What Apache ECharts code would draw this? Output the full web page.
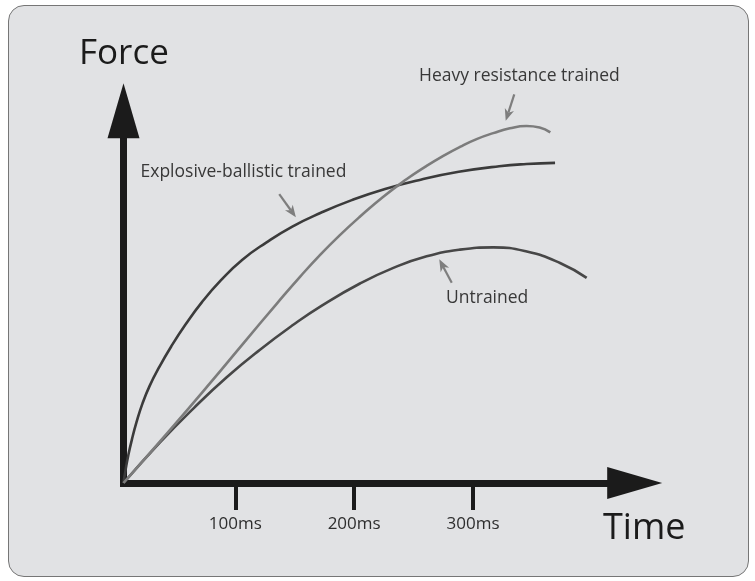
<!DOCTYPE html>
<html>
<head>
<meta charset="utf-8">
<script src="https://cdn.jsdelivr.net/npm/echarts@6/dist/echarts.min.js"></script>
<style>
  html, body { margin: 0; padding: 0; background: #ffffff; }
  #frame {
    position: absolute; left: 8px; top: 5px; width: 739px; height: 570px;
    border: 1.5px solid #767676; border-radius: 16px; background: #e1e2e4;
  }
  #chart { position: absolute; left: 0; top: 0; width: 755px; height: 581px; }
</style>
</head>
<body>
<div id="frame"></div>
<div id="chart"></div>
<script>
// Time axis ticks (ms)
const timeTicks = [100, 200, 300];

// Force–time curves: [time in ms, relative force]
const explosiveBallistic = [
  [6, 0], [8, 4.0], [10, 7.4], [13, 11.6], [17, 16.4], [22, 21.4], [28, 26.1],
  [36, 31.1], [46, 36.6], [58, 42.5], [72, 48.6], [88, 54.5], [106, 60.0],
  [126, 64.6], [148, 68.9], [172, 72.6], [198, 76.0], [226, 79.0], [256, 81.5],
  [288, 83.6], [322, 85.1], [345, 85.7], [369, 86.0]
];
const heavyResistance = [
  [6, 0], [45, 14.2], [79, 26.9], [107, 37.6], [135, 48.2], [155, 55.6],
  [172, 61.5], [188, 66.6], [205, 71.6], [224, 76.8], [244, 81.6],
  [260, 85.0], [275, 87.9], [289, 90.3], [303, 92.4], [317, 94.0],
  [331, 95.3], [345, 95.9], [356, 95.5], [365, 94.2]
];
const untrained = [
  [6, 0], [36.7, 10.9], [64.7, 20.0], [92.8, 28.4], [120.8, 35.8], [148.8, 42.5],
  [172.5, 47.6], [204.9, 53.6], [233, 57.8], [261, 60.9], [289, 62.7], [317.1, 63.3],
  [345.2, 62.2], [373.2, 59.1], [395.6, 55.1]
];

// Callout arrows, in data space: [tail, tip]
const calloutExplosive = [[137, 77.6], [151, 71.4]];
const calloutHeavy = [[334.7, 104.4], [327.5, 97.3]];
const calloutUntrained = [[282.1, 53.8], [271.6, 60.1]];

const FONT = '"Open Sans", "Noto Sans", sans-serif';
const AXIS_COLOR = '#1b1b1b';

const chart = echarts.init(document.getElementById('chart'), null, { renderer: 'canvas' });

const axisLineStyle = {
  show: true,
  symbol: ['none', 'triangle'],
  symbolSize: [32, 55],
  lineStyle: { color: AXIS_COLOR, width: 7, cap: 'square' }
};

function curve(name, data, color, z) {
  return {
    name: name, type: 'line', data: data,
    showSymbol: false, smooth: 0.5, clip: false, z: z,
    lineStyle: { color: color, width: 2.6 }
  };
}

const option = {
  animation: false,
  grid: {
    left: 123.5, top: 110.8, right: 120.3, bottom: 98,
    outerBoundsMode: 'none', containLabel: false
  },
  xAxis: {
    type: 'value',
    min: 6, max: 436,
    axisLine: axisLineStyle,
    splitLine: { show: false },
    axisTick: {
      show: true, length: 27, customValues: timeTicks,
      lineStyle: { color: AXIS_COLOR, width: 4 }
    },
    axisLabel: {
      show: true, customValues: timeTicks, margin: 33,
      formatter: '{value}ms', fontSize: 17, fontFamily: FONT, color: '#2e2e2e'
    }
  },
  yAxis: {
    type: 'value',
    min: 0, max: 100,
    axisLine: axisLineStyle,
    splitLine: { show: false },
    axisTick: { show: false },
    axisLabel: { show: false }
  },
  series: [
    curve('Explosive-ballistic trained', explosiveBallistic, '#3b3b3b', 3),
    curve('Heavy resistance trained', heavyResistance, '#7c7c7c', 4),
    curve('Untrained', untrained, '#474747', 3)
  ]
};

chart.setOption(option);

// Callout arrows and text, placed through the grid's coordinate system
function toPx(p) { return chart.convertToPixel({ gridIndex: 0 }, p); }

function arrow(callout) {
  const a = toPx(callout[0]);
  const b = toPx(callout[1]);
  const dx = b[0] - a[0], dy = b[1] - a[1];
  const len = Math.sqrt(dx * dx + dy * dy);
  const ux = dx / len, uy = dy / len;
  const nx = -uy, ny = ux;
  const headLen = 12, halfW = 4.8;
  const back = [b[0] - ux * headLen, b[1] - uy * headLen];
  const notch = [b[0] - ux * headLen * 0.72, b[1] - uy * headLen * 0.72];
  return [
    {
      type: 'line', silent: true, z: 10,
      shape: { x1: a[0], y1: a[1], x2: notch[0], y2: notch[1] },
      style: { stroke: '#7e7e7e', lineWidth: 2.2 }
    },
    {
      type: 'polygon', silent: true, z: 10,
      shape: { points: [b, [back[0] + nx * halfW, back[1] + ny * halfW], notch,
                        [back[0] - nx * halfW, back[1] - ny * halfW]] },
      style: { fill: '#7e7e7e' }
    }
  ];
}

function label(text, x, y, size, color) {
  return {
    type: 'text', silent: true, z: 10, x: x, y: y,
    style: {
      text: text, fontSize: size, fontFamily: FONT, fill: color,
      align: 'left', verticalAlign: 'middle',
      textAlign: 'left', textVerticalAlign: 'middle'
    }
  };
}

chart.setOption({
  graphic: {
    elements: [
      ...arrow(calloutExplosive),
      ...arrow(calloutHeavy),
      ...arrow(calloutUntrained),
      label('Force', 79, 54.5, 35, '#1b1b1b'),
      label('Time', 603, 529, 36, '#1b1b1b'),
      label('Explosive-ballistic trained', 140.5, 171.7, 17.5, '#383838'),
      label('Heavy resistance trained', 419, 75.8, 17.5, '#383838'),
      label('Untrained', 446, 298.3, 17.5, '#383838')
    ]
  }
});
</script>
</body>
</html>
